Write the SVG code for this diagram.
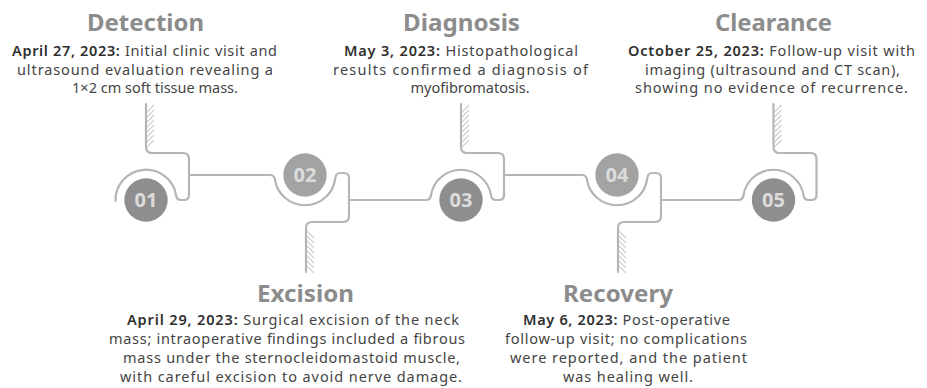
<svg xmlns="http://www.w3.org/2000/svg" width="927" height="388" viewBox="0 0 927 388">
<style>
.track{fill:none;stroke:#b5b5b5;stroke-width:2.2;stroke-linecap:round;stroke-linejoin:round}
.hatch{fill:none;stroke:#d0d0d0;stroke-width:1.2}
.odd{fill:#8e8e8e}
.even{fill:#a3a3a3}
.num{font-family:"Noto Sans",sans-serif;font-weight:700;font-size:20px;fill:#dcdcdc;text-anchor:middle}
.title{font-family:"Noto Sans",sans-serif;font-weight:700;font-size:24px;fill:#8c8c8c}
.body{font-family:"Noto Sans",sans-serif;font-size:14.5px;fill:#444}
.date{font-weight:600;fill:#2f2f2f}
.mid{text-anchor:middle}
</style>
<rect width="927" height="388" fill="#fff"/>
<g id="connectors" class="track">
<path d="M189 175 L270 175 Q274 175 274.8 179"/>
<path d="M349 200 L426 200 Q430 200 430.8 196"/>
<path d="M504 175 L582 175 Q586 175 586.8 179"/>
<path d="M661 200 L738.5 200 Q742.5 200 743.3 196"/>
</g>
<g id="node-01">
<path class="track" d="M115.5 201 A30.5 30.5 0 0 1 176.2 196 Q177 200 181 200 L184 200 Q189 200 189 195 L189 159 Q189 153 183 153 L152 153 Q146 153 146 147 L146 104"/>
<path class="hatch" d="M147 112 L154 105 M147 117 L154 110 M147 122 L154 115 M147 127 L154 120 M147 132 L154 125 M147 137 L154 130 M147 142 L154 135 M147 147 L154 140"/>
<circle class="odd" cx="146" cy="200" r="21.7"/>
<text class="num" x="146" y="207">01</text>
<text class="title" x="87" y="31" textLength="117" lengthAdjust="spacingAndGlyphs">Detection</text>
<text class="body" x="12" y="56" textLength="265" lengthAdjust="spacing"><tspan class="date">April 27, 2023:</tspan> Initial clinic visit and</text>
<text class="body" x="17" y="74.5" textLength="256" lengthAdjust="spacing">ultrasound evaluation revealing a</text>
<text class="body mid" x="155" y="93">1×2 cm soft tissue mass.</text>
</g>
<g id="node-02">
<path class="track" d="M274.8 179 A30.5 30.5 0 0 0 335.2 179 Q335.6 173 340 173 L344 173 Q349 173 349 178 L349 216 Q349 222 343 222 L312 222 Q306 222 306 228 L306 272"/>
<path class="hatch" d="M307 231 L314 238 M307 236 L314 243 M307 241 L314 248 M307 246 L314 253 M307 251 L314 258 M307 256 L314 263 M307 261 L314 268 M307 266 L314 273"/>
<circle class="even" cx="305" cy="175" r="21.7"/>
<text class="num" x="305" y="182">02</text>
<text class="title" x="257" y="302" textLength="97" lengthAdjust="spacingAndGlyphs">Excision</text>
<text class="body" x="127" y="325" textLength="332" lengthAdjust="spacing"><tspan class="date">April 29, 2023:</tspan> Surgical excision of the neck</text>
<text class="body" x="109" y="344" textLength="356" lengthAdjust="spacing">mass; intraoperative findings included a fibrous</text>
<text class="body" x="123" y="363" textLength="337" lengthAdjust="spacing">mass under the sternocleidomastoid muscle,</text>
<text class="body" x="120" y="382" textLength="342" lengthAdjust="spacing">with careful excision to avoid nerve damage.</text>
</g>
<g id="node-03">
<path class="track" d="M430.8 196 A30.5 30.5 0 0 1 491.2 196 Q492 200 496 200 L499 200 Q504 200 504 195 L504 159 Q504 153 498 153 L467 153 Q461 153 461 147 L461 104"/>
<path class="hatch" d="M462 112 L469 105 M462 117 L469 110 M462 122 L469 115 M462 127 L469 120 M462 132 L469 125 M462 137 L469 130 M462 142 L469 135 M462 147 L469 140"/>
<circle class="odd" cx="461" cy="200" r="21.7"/>
<text class="num" x="461" y="207">03</text>
<text class="title" x="403" y="31" textLength="117" lengthAdjust="spacingAndGlyphs">Diagnosis</text>
<text class="body" x="344" y="56" textLength="234" lengthAdjust="spacing"><tspan class="date">May 3, 2023:</tspan> Histopathological</text>
<text class="body" x="333" y="74.5" textLength="255" lengthAdjust="spacing">results confirmed a diagnosis of</text>
<text class="body mid" x="470" y="93">myofibromatosis.</text>
</g>
<g id="node-04">
<path class="track" d="M586.8 179 A30.5 30.5 0 0 0 647.2 179 Q647.6 173 652 173 L656 173 Q661 173 661 178 L661 216 Q661 222 655 222 L624 222 Q618 222 618 228 L618 272"/>
<path class="hatch" d="M619 231 L626 238 M619 236 L626 243 M619 241 L626 248 M619 246 L626 253 M619 251 L626 258 M619 256 L626 263 M619 261 L626 268 M619 266 L626 273"/>
<circle class="even" cx="617" cy="175" r="21.7"/>
<text class="num" x="617" y="182">04</text>
<text class="title" x="563" y="302" textLength="110" lengthAdjust="spacingAndGlyphs">Recovery</text>
<text class="body" x="523" y="325" textLength="207" lengthAdjust="spacing"><tspan class="date">May 6, 2023:</tspan> Post-operative</text>
<text class="body" x="505" y="344" textLength="242" lengthAdjust="spacing">follow-up visit; no complications</text>
<text class="body" x="510" y="363" textLength="237" lengthAdjust="spacing">were reported, and the patient</text>
<text class="body" x="563" y="382" textLength="130" lengthAdjust="spacing">was healing well.</text>
</g>
<g id="node-05">
<path class="track" d="M743.3 196 A30.5 30.5 0 0 1 803.7 196 Q804.5 200 808.5 200 L811.5 200 Q816.5 200 816.5 195 L816.5 159 Q816.5 153 810.5 153 L779.5 153 Q773.5 153 773.5 147 L773.5 104"/>
<path class="hatch" d="M774.5 112 L781.5 105 M774.5 117 L781.5 110 M774.5 122 L781.5 115 M774.5 127 L781.5 120 M774.5 132 L781.5 125 M774.5 137 L781.5 130 M774.5 142 L781.5 135 M774.5 147 L781.5 140"/>
<circle class="odd" cx="773.5" cy="200" r="21.7"/>
<text class="num" x="773.5" y="207">05</text>
<text class="title" x="715" y="31" textLength="117" lengthAdjust="spacingAndGlyphs">Clearance</text>
<text class="body" x="628" y="56" textLength="287" lengthAdjust="spacing"><tspan class="date">October 25, 2023:</tspan> Follow-up visit with</text>
<text class="body" x="645" y="74.5" textLength="255" lengthAdjust="spacing">imaging (ultrasound and CT scan),</text>
<text class="body" x="635" y="93" textLength="273" lengthAdjust="spacing">showing no evidence of recurrence.</text>
</g>
</svg>
